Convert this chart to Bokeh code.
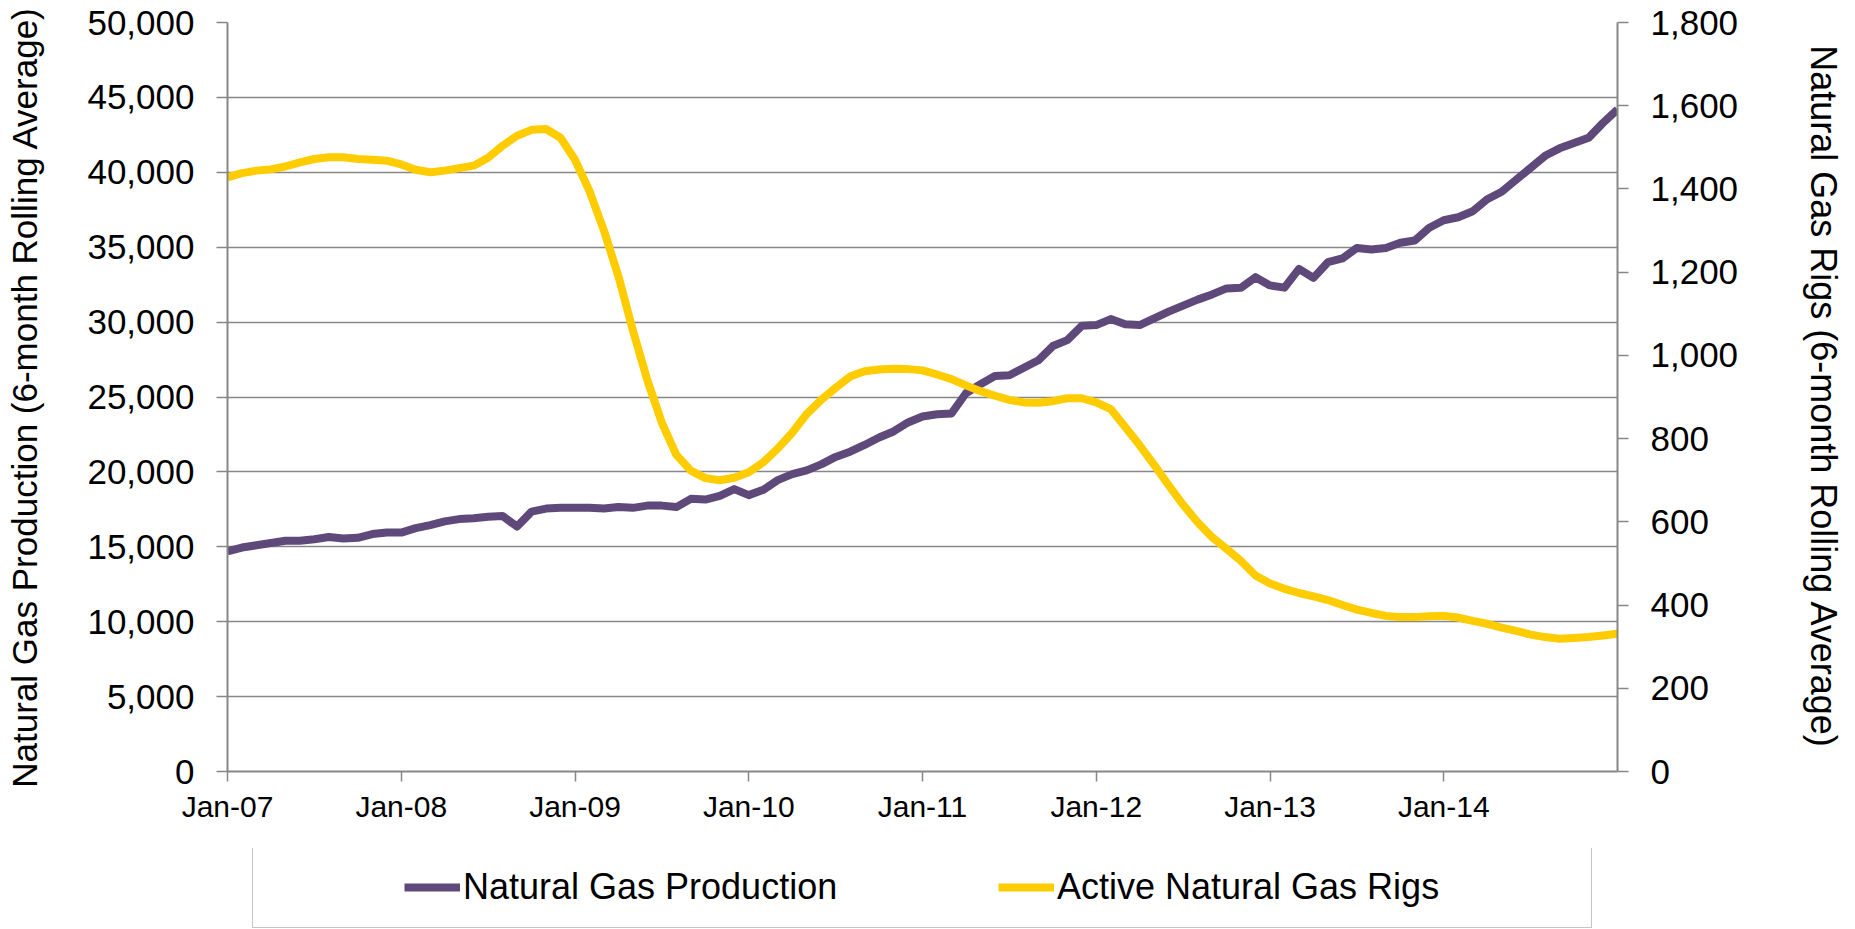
from bokeh.plotting import figure
from bokeh.layouts import column
from bokeh.models import (Range1d, LinearAxis, FixedTicker, NumeralTickFormatter,
                          Legend, LegendItem)
from bokeh.embed import file_html
from bokeh.resources import INLINE

# ---------------- data ----------------
tick_labels = ["Jan-07", "Jan-08", "Jan-09", "Jan-10", "Jan-11", "Jan-12", "Jan-13", "Jan-14"]

# Natural gas production, 6-month rolling average (monthly, Jan-07 .. Jan-15)
production = [
    14700, 14950, 15100, 15250, 15400, 15400, 15500, 15650, 15550, 15600, 15850, 15950,
    15950, 16250, 16450, 16700, 16850, 16900, 17000, 17050, 16350, 17350, 17550, 17600,
    17600, 17600, 17550, 17650, 17600, 17750, 17750, 17650, 18200, 18150, 18400, 18850,
    18450, 18800, 19450, 19850, 20100, 20500, 21000, 21350, 21800, 22300, 22700, 23300,
    23700, 23850, 23900, 25250, 25850, 26400, 26450, 26950, 27450, 28400, 28800, 29750,
    29800, 30200, 29850, 29800, 30250, 30700, 31100, 31500, 31850, 32250, 32300, 33000,
    32450, 32300, 33550, 32950, 34000, 34250, 34950, 34850, 34950, 35300, 35450, 36300,
    36800, 37000, 37400, 38200, 38700, 39500, 40300, 41100, 41600, 41950, 42300, 43300,
    44200,
]

# Active natural gas rigs, 6-month rolling average
rigs = [
    1428, 1438, 1444, 1447, 1454, 1464, 1472, 1476, 1476, 1472, 1470, 1468,
    1459, 1446, 1440, 1444, 1450, 1456, 1475, 1504, 1528, 1542, 1544, 1523,
    1470, 1395, 1300, 1190, 1060, 940, 838, 761, 723, 705, 700, 706,
    719, 743, 776, 814, 859, 893, 922, 949, 962, 966, 968, 967,
    964, 954, 943, 928, 914, 903, 893, 887, 886, 890, 897, 897,
    887, 871, 828, 784, 737, 688, 641, 599, 563, 535, 506, 471,
    452, 439, 429, 421, 412, 400, 389, 381, 374, 371, 371, 373,
    374, 370, 362, 355, 346, 338, 329, 323, 319, 321, 323, 327,
    331,
]

months = list(range(len(production)))

prod_ticks = list(range(0, 50001, 5000))
rig_ticks = list(range(0, 1801, 200))

left_title = "Natural Gas Production (6-month Rolling Average)"
right_title = "Natural Gas Rigs (6-month Rolling Average)"
series_names = ["Natural Gas Production", "Active Natural Gas Rigs"]

# ---------------- style ----------------
FONT = "Liberation Sans"
GRAY = "#878787"
PURPLE = "#5F497A"
YELLOW = "#FFCC00"
LW = 8

p = figure(width=1855, height=848, output_backend="svg", toolbar_location=None,
           title=None,
           x_range=Range1d(months[0], months[-1]), y_range=Range1d(0, 50000),
           min_border_left=227, min_border_right=238, min_border_top=22,
           min_border_bottom=77)
p.extra_y_ranges = {"rigs": Range1d(0, 1800)}
p.outline_line_color = None
p.background_fill_color = "white"
p.border_fill_color = "white"
p.xgrid.visible = False
p.ygrid.grid_line_color = GRAY
p.ygrid.grid_line_width = 1.5

# x axis
xa = p.xaxis[0]
xa.ticker = FixedTicker(ticks=[12 * i for i in range(len(tick_labels))])
xa.major_label_overrides = {12 * i: lab for i, lab in enumerate(tick_labels)}
xa.major_label_text_font = FONT
xa.major_label_text_font_size = "30px"
xa.major_label_text_color = "black"
xa.major_label_standoff = 8
xa.major_tick_out = 10
xa.major_tick_in = 0
xa.minor_tick_out = 0
xa.minor_tick_in = 0
xa.axis_line_color = GRAY
xa.axis_line_width = 2
xa.major_tick_line_color = GRAY
xa.major_tick_line_width = 1.5

# left axis
ya = p.yaxis[0]
ya.ticker = FixedTicker(ticks=prod_ticks)
ya.formatter = NumeralTickFormatter(format="0,0")
ya.axis_label = left_title
ya.axis_label_text_font_size = "35px"
ya.axis_label_standoff = 40

ra = LinearAxis(y_range_name="rigs", ticker=FixedTicker(ticks=rig_ticks),
                formatter=NumeralTickFormatter(format="0,0"))
ra.axis_label = right_title
ra.axis_label_text_font_size = "36px"
ra.axis_label_standoff = 62
p.add_layout(ra, "right")

for ax in (ya, ra):
    ax.axis_label_text_font = FONT
    ax.axis_label_text_font_style = "normal"
    ax.axis_label_text_color = "black"
    ax.major_label_text_font = FONT
    ax.major_label_text_font_size = "35px"
    ax.major_label_text_color = "black"
    ax.major_label_standoff = 22
    ax.major_tick_out = 11
    ax.major_tick_in = 0
    ax.minor_tick_out = 0
    ax.minor_tick_in = 0
    ax.axis_line_color = GRAY
    ax.axis_line_width = 2
    ax.major_tick_line_color = GRAY
    ax.major_tick_line_width = 1.5

# series
p.line(months, production, line_color=PURPLE, line_width=LW, line_join="round")
p.line(months, rigs, y_range_name="rigs", line_color=YELLOW, line_width=LW,
       line_join="round")

# ---------------- legend strip (separate figure below; frame aligns with main) -------
lf = figure(width=1855, height=81, output_backend="svg", toolbar_location=None,
            title=None, x_range=Range1d(0, 1), y_range=Range1d(0, 1),
            x_axis_type=None, y_axis_type=None,
            min_border_left=0, min_border_right=0, min_border_top=0, min_border_bottom=0)
lf.outline_line_color = None
lf.xgrid.visible = False
lf.ygrid.visible = False
lf.background_fill_color = "white"
lf.border_fill_color = "white"

# proxy renderers (one point each, outside the strip's view) for the legend swatches
k_prod = lf.line(months[:1], production[:1], line_color=PURPLE, line_width=LW)
k_rigs = lf.line(months[:1], rigs[:1], line_color=YELLOW, line_width=LW)

legend = Legend(items=[LegendItem(label=series_names[0], renderers=[k_prod]),
                       LegendItem(label=series_names[1], renderers=[k_rigs])],
                location=(25, 1), orientation="horizontal",
                title=" ", title_location="left", title_text_font_size="1px",
                title_standoff=131,
                padding=19, margin=0, spacing=20, glyph_width=56, glyph_height=20,
                label_standoff=3, label_width=515,
                label_text_font=FONT, label_text_font_size="36px",
                label_text_color="black",
                border_line_color="#8c8c8c", border_line_width=1.5,
                background_fill_color="white", background_fill_alpha=1)
lf.add_layout(legend)

page = column(p, lf, spacing=0)

open("out.html", "w").write(file_html(page, INLINE))
